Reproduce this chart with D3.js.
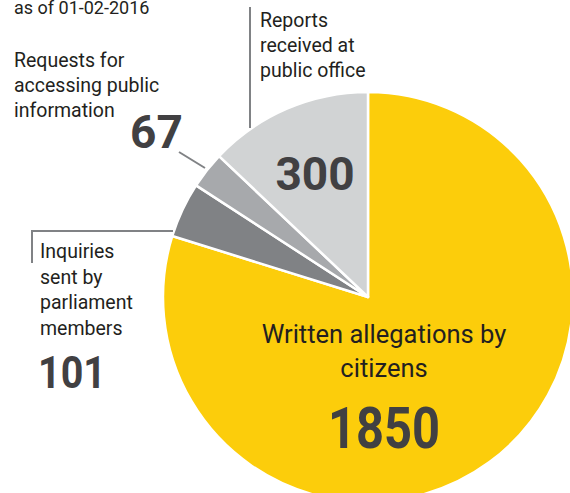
<!DOCTYPE html>
<html>
<head>
<meta charset="utf-8">
<script src="https://cdn.jsdelivr.net/npm/d3@7"></script>
<style>
  body { margin: 0; background: #fff; }
  svg { display: block; font-family: Roboto, "Open Sans", sans-serif; }
</style>
</head>
<body>
<div id="chart"></div>
<script>
// data
const categories = ["Written allegations by citizens", "Inquiries sent by parliament members",
                    "Requests for accessing public information", "Reports received at public office"];
const values = [1850, 101, 67, 300];
const colors = ["#FCCD0B", "#808285", "#A7A9AC", "#D1D3D4"];

const width = 570, height = 493;
const cx = 368, cy = 297, radius = 205;

const svg = d3.select("#chart").append("svg")
    .attr("width", width)
    .attr("height", height);

const pie = d3.pie().sort(null).value(d => d);
const arc = d3.arc().innerRadius(0).outerRadius(radius);

const g = svg.append("g").attr("transform", `translate(${cx},${cy})`);

g.selectAll("path")
    .data(pie(values))
    .enter()
    .append("path")
    .attr("d", arc)
    .attr("fill", (d, i) => colors[i])
    .attr("stroke", "#fff")
    .attr("stroke-width", 2.5)
    .attr("stroke-linejoin", "round");

// leader lines
const lineColor = "#808285";
svg.append("line").attr("x1", 250).attr("y1", 7).attr("x2", 250).attr("y2", 128)
    .attr("stroke", lineColor).attr("stroke-width", 2);
svg.append("line").attr("x1", 179).attr("y1", 152).attr("x2", 205).attr("y2", 168)
    .attr("stroke", lineColor).attr("stroke-width", 2);
svg.append("polyline").attr("points", "32,263 32,231 173,231")
    .attr("fill", "none").attr("stroke", lineColor).attr("stroke-width", 2);

// text helpers
function lines(x, y0, step, arr, opts) {
    const t = svg.append("text")
        .attr("x", x).attr("y", y0)
        .attr("font-size", opts.size)
        .attr("fill", opts.fill || "#231F20")
        .attr("text-anchor", opts.anchor || "start");
    arr.forEach((s, i) => {
        t.append("tspan").attr("x", x).attr("y", y0 + i * step).text(s);
    });
    return t;
}
function big(x, y, s, size, anchor, len) {
    const t = svg.append("text")
        .attr("x", x).attr("y", y)
        .attr("font-size", size)
        .attr("font-weight", "bold")
        .attr("fill", "#414042")
        .attr("text-anchor", anchor || "start")
        .text(s);
    if (len) t.attr("textLength", len).attr("lengthAdjust", "spacingAndGlyphs");
}

lines(14, 14, 0, ["as of 01-02-2016"], { size: 18 });

lines(14, 67, 25, ["Requests for", "accessing public", "information"], { size: 19.5 });
big(130, 148, values[2], 46);

lines(260, 27, 25, ["Reports", "received at", "public office"], { size: 19.5 });
big(315, 190, values[3], 46, "middle");

lines(40, 258, 25.5, ["Inquiries", "sent by", "parliament", "members"], { size: 19.5 });
big(38, 388, values[1], 44, "start", 68);

lines(384, 343, 34, ["Written allegations by", "citizens"], { size: 25.5, anchor: "middle" });
big(384, 448, values[0], 57, "middle", 112);
</script>
</body>
</html>
